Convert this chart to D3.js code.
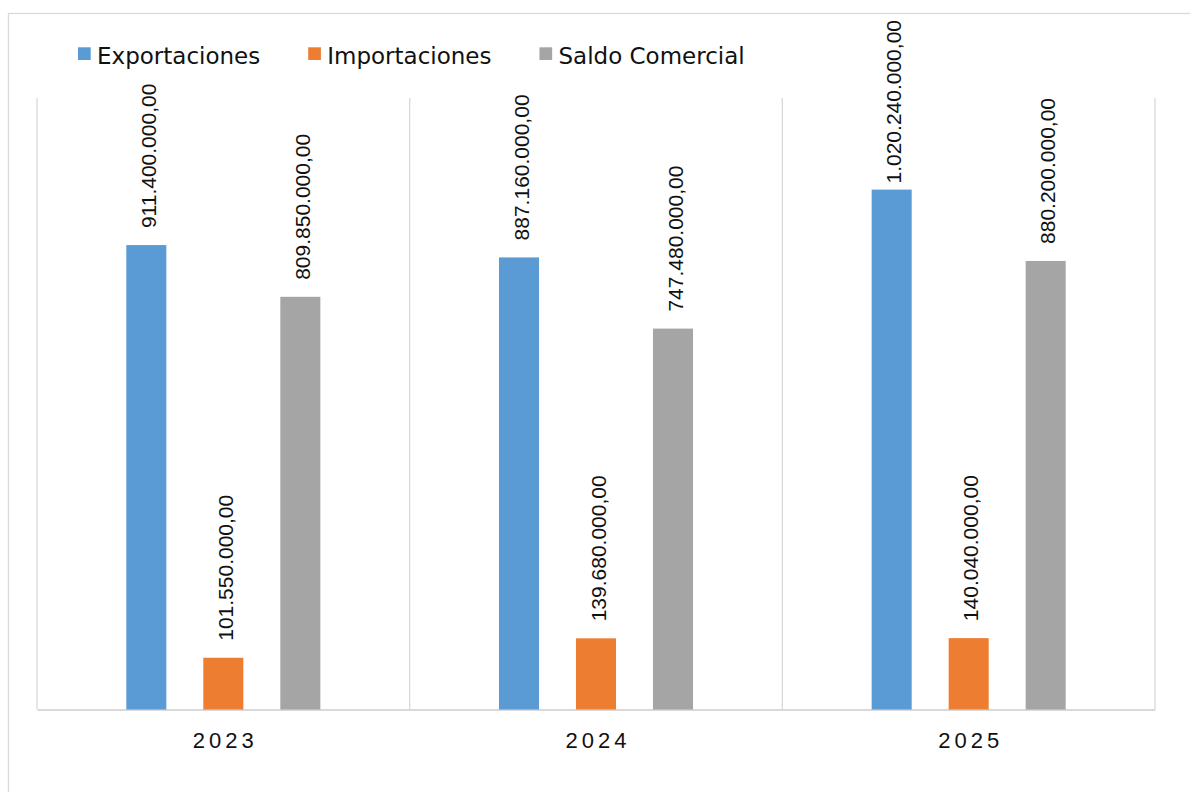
<!DOCTYPE html>
<html>
<head>
<meta charset="utf-8">
<script src="https://cdn.jsdelivr.net/npm/d3@7"></script>
<style>
  html, body { margin: 0; padding: 0; background: #fff; }
  svg { display: block; }
  text { font-family: "Liberation Sans", Arial, sans-serif; fill: #111; }
</style>
</head>
<body>
<script>
const years = ["2023", "2024", "2025"];
const seriesNames = ["Exportaciones", "Importaciones", "Saldo Comercial"];
const exportaciones = [911400000, 887160000, 1020240000];
const importaciones = [101550000, 139680000, 140040000];
const saldoComercial = [809850000, 747480000, 880200000];
const yMax = 1200000000;
const colors = ["#5B9BD5", "#ED7D31", "#A5A5A5"];

const seriesValues = [exportaciones, importaciones, saldoComercial];

const W = 1190, H = 792;
const plot = { left: 37, right: 1155, top: 98, bottom: 709.5 };
const labelMinTop = 20;

const svg = d3.select("body").append("svg").attr("width", W).attr("height", H);

// outer chart frame
svg.append("rect")
  .attr("x", 8.5).attr("y", 13.5)
  .attr("width", W + 20).attr("height", H + 20)
  .attr("fill", "none").attr("stroke", "#d9d9d9").attr("stroke-width", 1.3);

const x0 = d3.scaleBand().domain(years).range([plot.left, plot.right]).padding(0);
const bw = x0.bandwidth();
const step = 77;
const pi = 0.48;
const po = (bw / step - (seriesNames.length - pi)) / 2;
const x1 = d3.scaleBand().domain(seriesNames).range([0, bw]).paddingInner(pi).paddingOuter(po);
const y = d3.scaleLinear().domain([0, yMax]).range([plot.bottom, plot.top]);

// category separators (vertical gridlines)
const bounds = years.map(d => x0(d)).concat([x0(years[years.length - 1]) + bw]);
svg.append("g").selectAll("line").data(bounds).join("line")
  .attr("x1", d => d).attr("x2", d => d)
  .attr("y1", plot.top).attr("y2", plot.bottom)
  .attr("stroke", "#d9d9d9").attr("stroke-width", 1.3);

// baseline axis
const xAxis = d3.axisBottom(x0).tickSize(0).tickPadding(0);
const gx = svg.append("g").attr("transform", `translate(0,${plot.bottom})`).call(xAxis);
gx.select(".domain").attr("stroke", "#d9d9d9").attr("stroke-width", 2);
gx.selectAll(".tick text")
  .attr("dy", null)
  .attr("y", 38.5)
  .attr("x", 2)
  .style("font-family", '"Liberation Sans", Arial, sans-serif')
  .style("font-size", "22px")
  .style("letter-spacing", "4px")
  .attr("fill", "#111");

const locale = d3.formatLocale({ decimal: ",", thousands: ".", grouping: [3], currency: ["", ""] });
const fmt = locale.format(",.2f");

const data = [];
years.forEach((yr, i) => {
  seriesNames.forEach((s, j) => {
    data.push({ year: yr, series: s, value: seriesValues[j][i], color: colors[j] });
  });
});

svg.append("g").selectAll("rect").data(data).join("rect")
  .attr("x", d => x0(d.year) + x1(d.series))
  .attr("width", x1.bandwidth())
  .attr("y", d => y(d.value))
  .attr("height", d => y(0) - y(d.value))
  .attr("fill", d => d.color);

svg.append("g").selectAll("text").data(data).join("text")
  .attr("text-anchor", "start")
  .style("font-size", "21px")
  .text(d => fmt(d.value))
  .each(function (d) {
    const len = this.getComputedTextLength();
    const cx = x0(d.year) + x1(d.series) + x1.bandwidth() / 2 + 9.5;
    let start = y(d.value) - 17;
    if (start - len < labelMinTop) start = labelMinTop + len;
    d3.select(this).attr("transform", `translate(${cx},${start}) rotate(-90)`);
  });

// legend
const legend = svg.append("g");
let lx = 78;
seriesNames.forEach((s, j) => {
  const g = legend.append("g").attr("transform", `translate(${lx},0)`);
  g.append("rect").attr("x", 0).attr("y", 47.3).attr("width", 12.7).attr("height", 12.7).attr("fill", colors[j]);
  const t = g.append("text").attr("x", 19).attr("y", 63.5)
    .style("font-family", '"DejaVu Sans", sans-serif')
    .style("font-size", "23px").text(s);
  lx += 19 + t.node().getComputedTextLength() + 48;
});
</script>
</body>
</html>
